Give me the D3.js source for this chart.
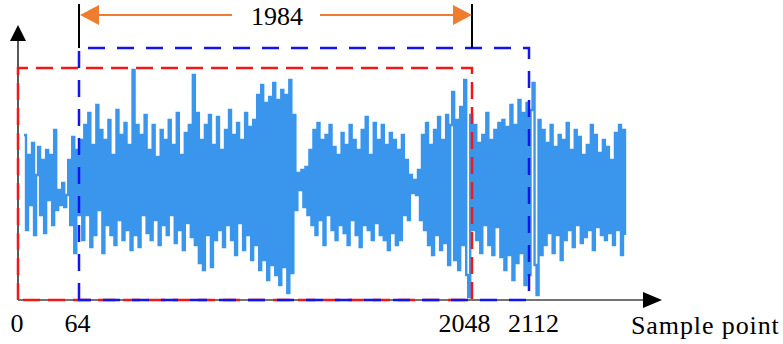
<!DOCTYPE html>
<html lang="en">
<head>
	<meta charset="UTF-8">
	<title>Sliding window</title>
	<script src="https://cdn.jsdelivr.net/npm/d3@7"></script>
	<style>
		body { margin: 0; background: white; }
	</style>
</head>
<body>
	<div id="vis"></div>

	<script>
		var width = 783;
		var height = 344;

		// sample positions marked under the axis
		var tickSamples = [0, 64, 2048, 2112];
		var tickLabels = ["0", "64", "2048", "2112"];
		var windowLength = 1984;
		var windows = [
			{ name: "first", start: 0, end: 2048, color: "#f01818" },
			{ name: "second", start: 64, end: 2112, color: "#1414f0" }
		];

		// signal amplitude (arbitrary units)
		var signal = [
			0.5, -0.45, 0.3, -0.2, 0.42, -0.5, 0.1, 0.38, -0.3, 0.25, -0.48, 0.35, -0.15, 0.3, -0.4, 0.55, -0.25,
			-0.05, -0.2, 0.02, -0.22, -0.1,
			0.25, -0.4, 0.48, -0.68, 0.35, -0.3, 0.45,
			-0.55, 0.6, -0.3, 0.72, -0.62, 0.4, -0.5, 0.8, -0.25, 0.55, -0.68, 0.45, -0.4, 0.65,
			-0.5, 0.3, -0.6, 0.75, -0.35, 0.5, -0.55, 0.62, -0.45, 0.4, -0.65, 1.15, -0.5, 0.6,
			-0.62, 0.5, -0.3, 0.7, -0.48, 0.35, -0.55, 0.6, -0.35, 0.28, -0.6, 0.55, -0.4, 0.45,
			-0.5, 0.65, -0.3, 0.4, -0.58, 0.72, -0.45, 0.3, -0.65, 0.52, -0.38, 0.6, -0.52,
			1.1,
			-0.6, 0.72, -0.78, 0.45, -0.85, 0.6, -0.5, 0.7, -0.82, 0.4, -0.55, 0.68, -0.45, 0.35, -0.62, 0.55,
			-0.4, 0.75, -0.55, 0.5, -0.7, 0.62, -0.38, 0.45, -0.65, 0.72, -0.5, 0.58, -0.75, 0.65, -0.6,
			0.9, -0.85, 1.0, -0.75, 0.82, -0.95, 0.88, -0.8, 1.02, -0.9, 0.85, -1.0, 0.95, -0.82, 0.9, -1.08, 1.05, -0.88, 0.7,
			-0.25, 0.12, -0.05,
			0.15, -0.22, 0.18, -0.3, 0.35, -0.4, 0.55, -0.5, 0.62, -0.35, 0.45, -0.6, 0.5, -0.3, 0.6, -0.45, 0.38, -0.55, 0.3, -0.4,
			0.52, -0.48, 0.4, -0.6, 0.6, -0.35, 0.45, -0.5, 0.35, -0.62, 0.55, -0.4, 0.68, -0.45, 0.3, -0.55, 0.62, -0.38, 0.45, -0.5,
			0.6, -0.55, 0.4, -0.65, 0.52, -0.48, 0.45, -0.6, 0.35, -0.55, 0.5, -0.3, 0.25, -0.35,
			0.1, -0.08, 0.05, -0.1, 0.15,
			-0.35, 0.5, -0.45, 0.62, -0.6, 0.4, -0.7, 0.55, -0.5, 0.68, -0.65, 0.45, -0.58,
			0.7, -0.8, 0.6, 0.93, -0.75, 0.65, -0.85, 0.78, -0.6, 1.05, -0.9, -1.12, 0.7,
			-0.45, 0.6, -0.55, 0.42, -0.68, 0.5, -0.4, 0.72, -0.6, 0.45, -0.7, 0.55, -0.42, 0.62,
			-0.72, 0.65, -0.85, 0.58, -0.7, 0.8, -0.95, 0.6, -0.78, 0.85, -0.68, 0.72, -1.0, 0.82, -0.9, 0.75, 1.02, -0.8, -1.1,
			0.65, -0.7, 0.55, -0.6, 0.42, -0.48, 0.6, -0.68, 0.38, -0.5, 0.5, -0.75, 0.45, -0.55, 0.62, -0.45, 0.35, -0.62, 0.55, -0.4, 0.48, -0.58,
			0.3, -0.52, 0.4, -0.45, 0.6, -0.65, 0.5, -0.42, 0.32, -0.5, 0.45, -0.55, 0.38, -0.48, 0.25, -0.6, 0.52, -0.45, 0.6, -0.7, 0.55, -0.5
		];

		var serif = "'Times New Roman', Times, 'Liberation Serif', 'DejaVu Serif', serif";

		var svg = d3.select("#vis").append("svg")
				.attr("width", width)
				.attr("height", height);

		// axis geometry
		var originX = 18;
		var originY = 300;

		// sample scale is not drawn to proportion in the figure, so use a piecewise scale
		var xSample = d3.scaleLinear()
				.domain(tickSamples)
				.range([originX, 79, 472, 529]);

		var xIndex = d3.scaleLinear()
				.domain([0, signal.length - 1])
				.range([24, 625]);

		var y = d3.scaleLinear()
				.domain([-1.15, 1.15])
				.range([originY, 70]);

		// signal, drawn as steps so it reads as a dense band of spikes
		var line = d3.line()
				.curve(d3.curveStepAfter)
				.x(function(d, i) { return xIndex(i); })
				.y(function(d) { return y(d); });

		svg.append("path")
			.datum(signal)
			.attr("d", line)
			.attr("fill", "none")
			.attr("stroke", "#3996ec")
			.attr("stroke-width", 2.4);

		// axes with arrow heads
		svg.append("line")
			.attr("x1", originX).attr("y1", originY)
			.attr("x2", 648).attr("y2", originY)
			.attr("stroke", "#444")
			.attr("stroke-width", 1.5);
		svg.append("path")
			.attr("d", "M662," + originY + "L643," + (originY - 8) + "L643," + (originY + 8) + "Z")
			.attr("fill", "black");

		svg.append("line")
			.attr("x1", originX).attr("y1", originY)
			.attr("x2", originX).attr("y2", 36)
			.attr("stroke", "#222")
			.attr("stroke-width", 1.5);
		svg.append("path")
			.attr("d", "M" + originX + ",25L" + (originX - 8) + ",41L" + (originX + 8) + ",41Z")
			.attr("fill", "black");

		// window rectangles
		var tops = { first: 68, second: 48 };
		windows.forEach(function(w) {
			var x0 = xSample(w.start), x1 = xSample(w.end), t = tops[w.name];
			svg.append("path")
				.attr("d", "M" + x0 + "," + originY + "L" + x0 + "," + t + "L" + x1 + "," + t + "L" + x1 + "," + originY + "Z")
				.attr("fill", "none")
				.attr("stroke", w.color)
				.attr("stroke-width", 2.5)
				.attr("stroke-dasharray", w.name == "first" ? "17,8" : "17,12");
		});

		// black end markers for the 1984 span
		[64, 2048].forEach(function(s) {
			svg.append("line")
				.attr("x1", xSample(s)).attr("y1", 4)
				.attr("x2", xSample(s)).attr("y2", 48)
				.attr("stroke", "black")
				.attr("stroke-width", 2);
		});

		// orange double arrow
		var ax0 = xSample(64) + 1, ax1 = xSample(2048), ay = 15;
		var mid = (ax0 + ax1) / 2;
		var orange = "#ee7d30";
		svg.append("line")
			.attr("x1", ax0 + 16).attr("y1", ay).attr("x2", mid - 44).attr("y2", ay)
			.attr("stroke", orange).attr("stroke-width", 2);
		svg.append("line")
			.attr("x1", mid + 44).attr("y1", ay).attr("x2", ax1 - 16).attr("y2", ay)
			.attr("stroke", orange).attr("stroke-width", 2);
		svg.append("path")
			.attr("d", "M" + ax0 + "," + ay + "L" + (ax0 + 19) + "," + (ay - 10) + "L" + (ax0 + 19) + "," + (ay + 10) + "Z")
			.attr("fill", orange);
		svg.append("path")
			.attr("d", "M" + ax1 + "," + ay + "L" + (ax1 - 19) + "," + (ay - 10) + "L" + (ax1 - 19) + "," + (ay + 10) + "Z")
			.attr("fill", orange);
		svg.append("text")
			.attr("x", mid + 1)
			.attr("y", 25)
			.attr("text-anchor", "middle")
			.attr("font-family", serif)
			.attr("font-size", 26)
			.text(windowLength);

		// tick labels
		var axis = d3.axisBottom(xSample)
				.tickValues(tickSamples)
				.tickFormat(function(d, i) { return tickLabels[i]; })
				.tickSize(0)
				.tickPadding(0);

		var gx = svg.append("g")
				.attr("transform", "translate(0," + 313 + ")")
				.call(axis);
		gx.select(".domain").remove();
		gx.attr("font-family", serif).attr("font-size", 26);

		// labels in the figure sit a little off the window edges
		var labelNudge = [-1.5, -2, -8, 4];
		gx.selectAll("text")
			.attr("fill", "black")
			.attr("dy", "0.74em")
			.attr("dx", function(d, i) { return labelNudge[i]; });

		svg.append("text")
			.attr("x", 631)
			.attr("y", 334)
			.attr("font-family", serif)
			.attr("font-size", 26)
			.attr("letter-spacing", 0.9)
			.text("Sample point");
	</script>
</body>
</html>
